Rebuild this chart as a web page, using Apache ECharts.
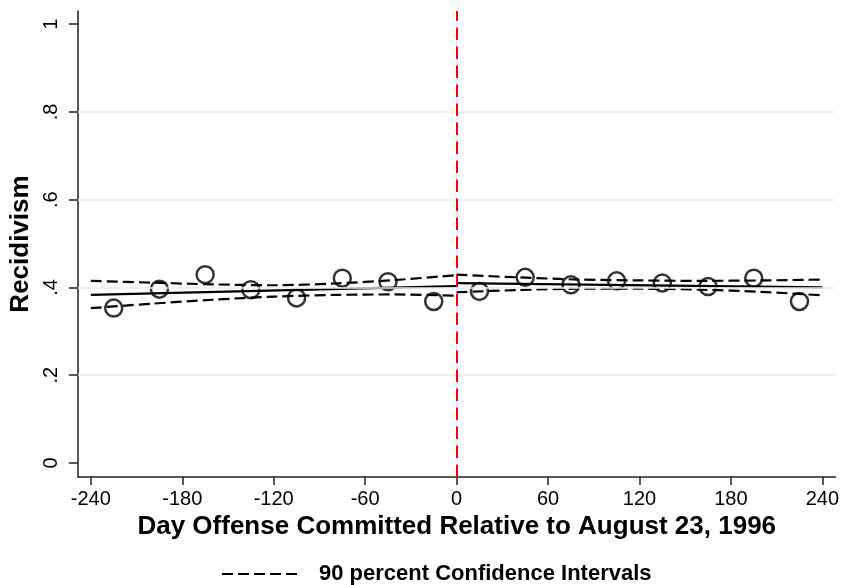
<!DOCTYPE html>
<html>
<head>
<meta charset="utf-8">
<script src="https://cdn.jsdelivr.net/npm/echarts@6/dist/echarts.min.js"></script>
<style>
  html, body { margin: 0; padding: 0; background: #fff; }
  #chart { width: 842px; height: 585px; }
</style>
</head>
<body>
<div id="chart"></div>
<script>
// bin means (circles)
var binDays = [-225, -195, -165, -135, -105, -75, -45, -15, 15, 45, 75, 105, 135, 165, 195, 225];
var binRecid = [0.353, 0.396, 0.429, 0.395, 0.376, 0.421, 0.413, 0.368, 0.391, 0.423, 0.406, 0.415, 0.410, 0.402, 0.421, 0.368];

// fitted lines either side of the cutoff
var leftFitDays = [-240, 0];
var leftFit = [0.383, 0.403];
var rightFitDays = [0, 240];
var rightFit = [0.410, 0.400];

// 90% confidence bands
var leftCiDays = [-240, -200, -160, -120, -80, -40, 0];
var leftUpper = [0.415, 0.411, 0.407, 0.405, 0.409, 0.417, 0.428];
var leftLower = [0.353, 0.363, 0.372, 0.379, 0.383, 0.384, 0.381];
var rightCiDays = [0, 40, 80, 120, 160, 200, 240];
var rightUpper = [0.429, 0.423, 0.418, 0.416, 0.415, 0.416, 0.418];
var rightLower = [0.389, 0.394, 0.397, 0.397, 0.395, 0.390, 0.382];

var xTicks = [-240, -180, -120, -60, 0, 60, 120, 180, 240];
var yTicks = [0, 0.2, 0.4, 0.6, 0.8, 1];
var gridValues = [0.2, 0.4, 0.6, 0.8];
var cutoff = 0;
var ciName = '90 percent Confidence Intervals';

function pairs(xs, ys) {
  return xs.map(function (x, i) { return [x, ys[i]]; });
}

function ciSeries(xs, ys) {
  return {
    name: ciName,
    type: 'line',
    data: pairs(xs, ys),
    symbol: 'none',
    smooth: 0.3,
    z: 3,
    lineStyle: { color: '#000', width: 2.2, type: [11, 5] },
    itemStyle: { color: '#000' },
  };
}

function fitSeries(xs, ys) {
  return {
    type: 'line',
    data: pairs(xs, ys),
    symbol: 'none',
    z: 3,
    lineStyle: { color: '#000', width: 2.2 },
  };
}

var chart = echarts.init(document.getElementById('chart'));
chart.setOption({
  animation: false,
  backgroundColor: '#fff',
  textStyle: { fontFamily: 'Liberation Sans' },
  grid: { left: 77, right: 6, top: 11, bottom: 108 },
  legend: {
    data: [ciName],
    left: 221,
    top: 563,
    padding: 0,
    itemWidth: 78,
    itemHeight: 14,
    itemStyle: { opacity: 0 },
    textStyle: { fontSize: 22, fontWeight: 'bold', color: '#000', padding: [0, 0, 0, 14] },
  },
  xAxis: {
    type: 'value',
    min: -248.5,
    max: 248.7,
    name: 'Day Offense Committed Relative to August 23, 1996',
    nameLocation: 'middle',
    nameGap: 36,
    nameTextStyle: { fontSize: 26, fontWeight: 'bold', color: '#000' },
    axisLine: { onZero: false, lineStyle: { color: '#222', width: 1.5 } },
    axisTick: { customValues: xTicks, length: 8, lineStyle: { color: '#222', width: 1.5 } },
    axisLabel: { customValues: xTicks, fontSize: 20, color: '#000', margin: 12 },
    splitLine: { show: false },
  },
  yAxis: {
    type: 'value',
    min: -0.032,
    max: 1.03,
    name: 'Recidivism',
    nameLocation: 'middle',
    nameGap: 38,
    nameTextStyle: { fontSize: 26, fontWeight: 'bold', color: '#000' },
    axisLine: { show: true, onZero: false, lineStyle: { color: '#222', width: 1.5 } },
    axisTick: { show: true, customValues: yTicks, length: 9, lineStyle: { color: '#222', width: 1.5 } },
    axisLabel: {
      customValues: yTicks,
      rotate: 90,
      fontSize: 20,
      color: '#000',
      margin: 16,
      formatter: function (v) {
        if (v === 0 || v === 1) return String(v);
        return String(+v.toFixed(1)).replace('0.', '.');
      },
    },
    splitLine: { show: false },
  },
  series: [
    {
      // light gridlines + red cutoff line
      type: 'line',
      data: [],
      z: 1,
      silent: true,
      markLine: {
        silent: true,
        symbol: 'none',
        label: { show: false },
        data: gridValues.map(function (v) {
          return { yAxis: v, lineStyle: { color: '#e6eef1', width: 1.5, type: 'solid' } };
        }).concat([
          { xAxis: cutoff, lineStyle: { color: '#f00', width: 2, type: [12.5, 6.5] } },
        ]),
      },
    },
    fitSeries(leftFitDays, leftFit),
    fitSeries(rightFitDays, rightFit),
    ciSeries(leftCiDays, leftUpper),
    ciSeries(leftCiDays, leftLower),
    ciSeries(rightCiDays, rightUpper),
    ciSeries(rightCiDays, rightLower),
    {
      type: 'scatter',
      data: pairs(binDays, binRecid),
      symbol: 'circle',
      symbolSize: 17,
      z: 4,
      itemStyle: { color: 'transparent', borderColor: '#000', borderWidth: 2.5 },
    },
  ],
});
</script>
</body>
</html>
